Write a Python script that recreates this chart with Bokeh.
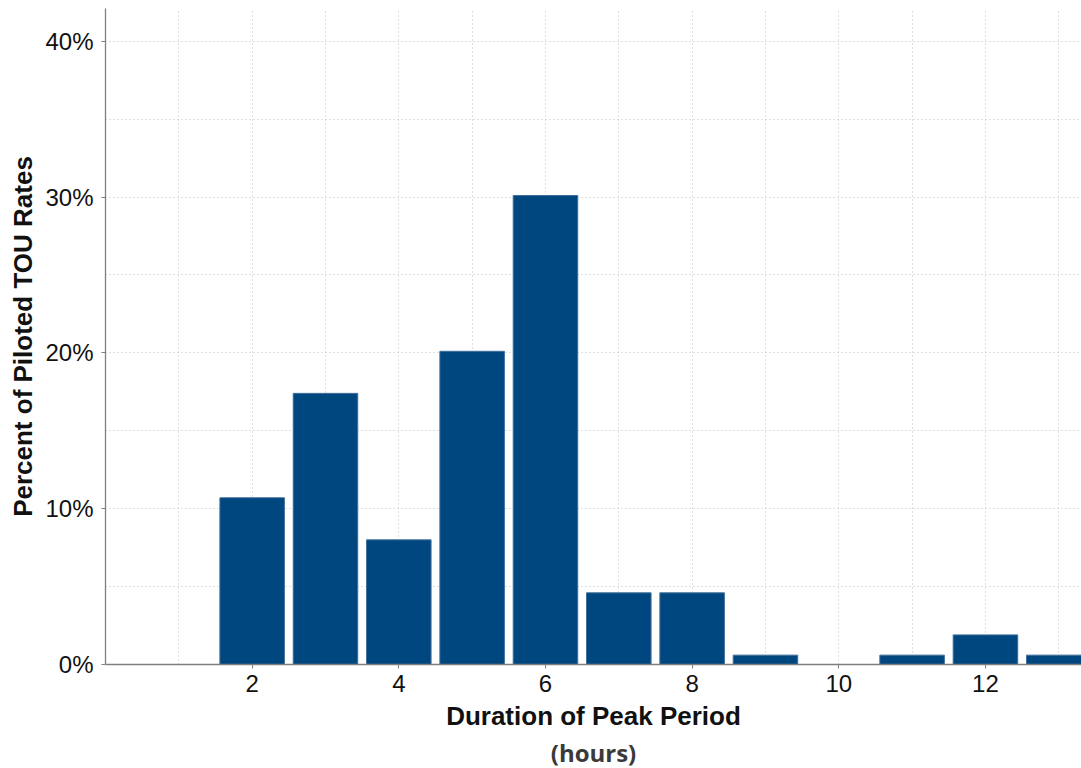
from bokeh.plotting import figure
from bokeh.models import ColumnDataSource, Range1d, FixedTicker, Title, CustomJSTickFormatter
from bokeh.embed import file_html
from bokeh.resources import INLINE

hours = [2, 3, 4, 5, 6, 7, 8, 9, 10, 11, 12, 13]
percent = [10.7, 17.4, 8.0, 20.1, 30.1, 4.6, 4.6, 0.6, 0.0, 0.6, 1.9, 0.6]
x_ticks = [2, 4, 6, 8, 10, 12]
y_ticks = [0, 10, 20, 30, 40]

src = ColumnDataSource(data=dict(x=hours, top=percent))

p = figure(width=1081, height=768, output_backend="svg", toolbar_location=None,
           x_range=Range1d(0, 13.31), y_range=Range1d(0, 42.1),
           min_border_left=105, min_border_right=0, min_border_top=8, min_border_bottom=104)
p.outline_line_color = None
p.background_fill_color = "white"

p.vbar(x="x", top="top", width=0.88, bottom=0, source=src,
       fill_color="#00467F", line_color="#3F6F9A", line_width=1)

# grid
p.xgrid.ticker = FixedTicker(ticks=list(range(0, 14)))
p.ygrid.ticker = FixedTicker(ticks=[0, 5, 10, 15, 20, 25, 30, 35, 40])
for g in (p.xgrid, p.ygrid):
    g.grid_line_color = "#C0C0C0"
    g.grid_line_dash = "1 3"
    g.grid_line_width = 1

p.xaxis.ticker = FixedTicker(ticks=x_ticks)
p.yaxis.ticker = FixedTicker(ticks=y_ticks)
p.yaxis.formatter = CustomJSTickFormatter(code="return tick + '%';")

for ax in (p.xaxis, p.yaxis):
    ax.axis_line_color = "#808080"
    ax.axis_line_width = 1.3
    ax.major_tick_line_color = "#808080"
    ax.major_tick_out = 4
    ax.major_tick_in = 0
    ax.minor_tick_line_color = None
    ax.major_label_text_font = "Liberation Sans"
    ax.major_label_text_font_size = "24px"
    ax.major_label_text_color = "#111111"
    ax.axis_label_text_font = "Liberation Sans"
    ax.axis_label_text_font_style = "bold"
    ax.axis_label_text_font_size = "26px"
    ax.axis_label_text_color = "#111111"

p.yaxis.major_label_standoff = 8
p.xaxis.major_label_standoff = 6
p.xaxis.axis_label = "Duration of Peak Period"
p.yaxis.axis_label = "Percent of Piloted TOU Rates"
p.xaxis.axis_label_standoff = 6
p.yaxis.axis_label_standoff = 4

sub = Title(text="(hours)", align="center", text_font="Open Sans", text_font_style="bold",
            text_font_size="24px", text_color="#3A3A3A", standoff=0, offset=0)
p.add_layout(sub, "below")

open("out.html", "w").write(file_html(p, INLINE))
